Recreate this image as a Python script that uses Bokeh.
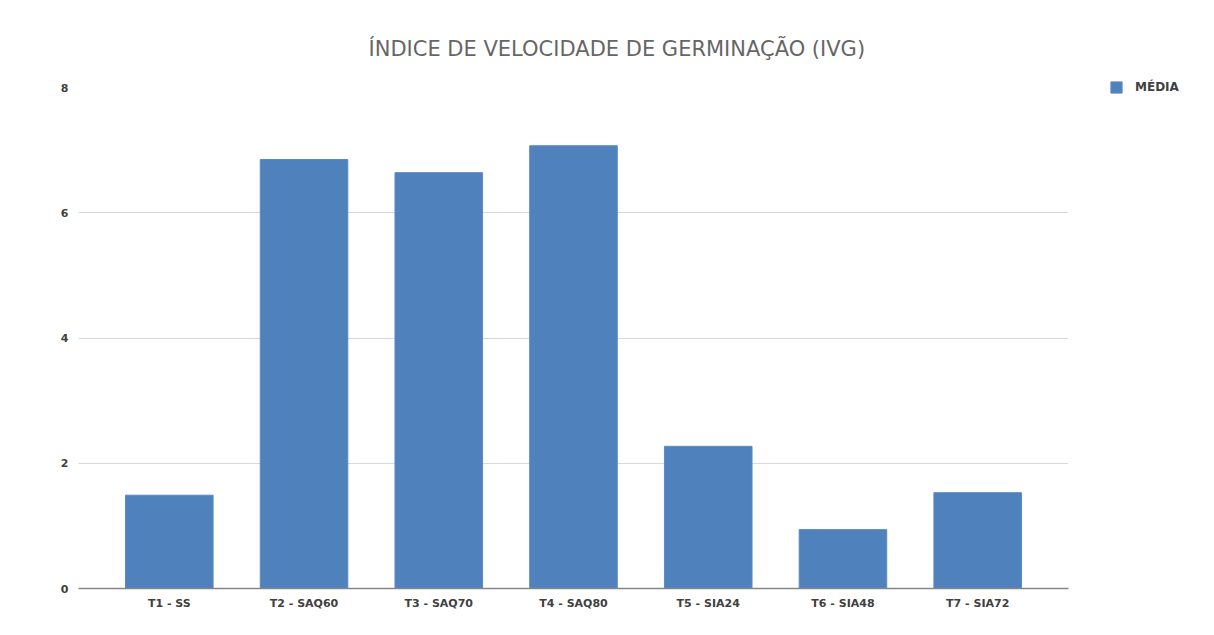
from bokeh.plotting import figure
from bokeh.models import ColumnDataSource, FactorRange, Range1d, Title, Legend, LegendItem, FixedTicker
from bokeh.embed import file_html
from bokeh.resources import INLINE

categories = ["T1 - SS", "T2 - SAQ60", "T3 - SAQ70", "T4 - SAQ80", "T5 - SIA24", "T6 - SIA48", "T7 - SIA72"]
media = [1.49, 6.85, 6.64, 7.07, 2.27, 0.94, 1.53]
y_ticks = [0, 2, 4, 6, 8]
title_text = "ÍNDICE DE VELOCIDADE DE GERMINAÇÃO (IVG)"
series_name = "MÉDIA"

source = ColumnDataSource(data=dict(cat=categories, val=media))

p = figure(
    width=1214, height=635, frame_width=990, frame_height=501,
    x_range=FactorRange(factors=categories, range_padding=0.174, range_padding_units="absolute"),
    y_range=Range1d(0, 8),
    output_backend="svg", toolbar_location=None,
    min_border_left=78, min_border_right=146, min_border_top=87, min_border_bottom=47,
)
p.outline_line_color = None
p.background_fill_color = "white"
p.border_fill_color = "white"

r = p.vbar(x="cat", top="val", width=0.65, source=source,
           fill_color="#4f81bd", line_color="#5a8ac6", line_width=1)

# axes
p.xaxis.axis_line_color = "#868686"
p.xaxis.axis_line_width = 1.5
p.xaxis.major_tick_line_color = None
p.xaxis.minor_tick_line_color = None
p.xaxis.major_tick_out = 0
p.xaxis.minor_tick_out = 0
p.xaxis.major_label_text_font = "DejaVu Sans"
p.xaxis.major_label_text_font_style = "bold"
p.xaxis.major_label_text_font_size = "11px"
p.xaxis.major_label_text_color = "#404040"
p.xaxis.major_label_standoff = 8

p.yaxis.ticker = FixedTicker(ticks=y_ticks)
p.yaxis.axis_line_color = None
p.yaxis.major_tick_line_color = None
p.yaxis.minor_tick_line_color = None
p.yaxis.major_tick_out = 0
p.yaxis.minor_tick_out = 0
p.yaxis.major_label_text_font = "DejaVu Sans"
p.yaxis.major_label_text_font_style = "bold"
p.yaxis.major_label_text_font_size = "11px"
p.yaxis.major_label_text_color = "#404040"
p.yaxis.major_label_standoff = 10

p.xgrid.grid_line_color = None
p.ygrid.grid_line_color = "#d9d9d9"
p.ygrid.grid_line_width = 1

title = Title(text=title_text, align="left", offset=290, standoff=53,
              text_font="DejaVu Sans", text_font_size="21px",
              text_font_style="normal", text_color="#666666")
p.add_layout(title, "above")

legend = Legend(items=[LegendItem(label=series_name, renderers=[r])],
                location=(41, 494), orientation="vertical",
                glyph_width=14, glyph_height=14, label_height=14, label_standoff=12,
                label_text_font="DejaVu Sans", label_text_font_style="bold",
                label_text_font_size="12px", label_text_color="#404040",
                border_line_color=None, background_fill_alpha=0,
                padding=0, margin=0, spacing=0)
p.add_layout(legend, "right")

open("out.html", "w").write(file_html(p, INLINE))
